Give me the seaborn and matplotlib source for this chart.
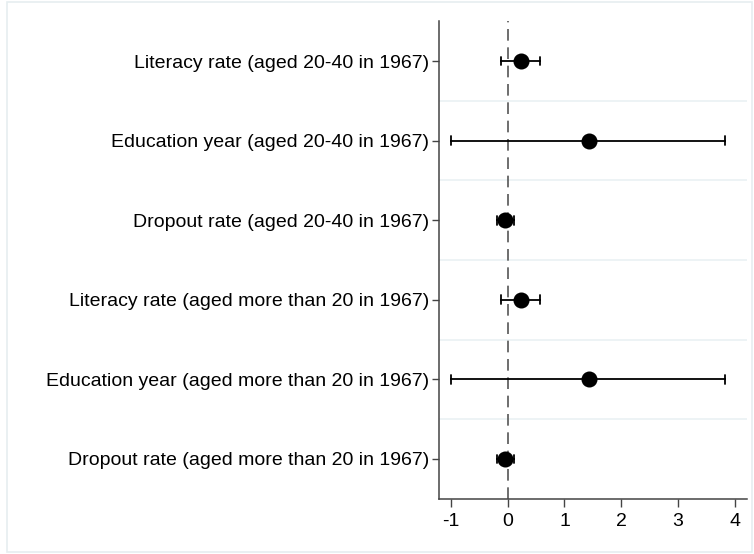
import matplotlib
matplotlib.use("Agg")
import matplotlib.pyplot as plt
import seaborn as sns
import pandas as pd
from matplotlib.patches import Rectangle

categories = [
    "Literacy rate (aged 20-40 in 1967)",
    "Education year (aged 20-40 in 1967)",
    "Dropout rate (aged 20-40 in 1967)",
    "Literacy rate (aged more than 20 in 1967)",
    "Education year (aged more than 20 in 1967)",
    "Dropout rate (aged more than 20 in 1967)",
]
estimates = [0.23, 1.43, -0.04, 0.23, 1.43, -0.04]
ci_low = [-0.12, -0.99, -0.18, -0.12, -0.99, -0.18]
ci_high = [0.575, 3.82, 0.105, 0.575, 3.82, 0.11]
xticks = [-1, 0, 1, 2, 3, 4]

rows = []
for c, lo, e, hi in zip(categories, ci_low, estimates, ci_high):
    for v in (lo, e, hi):
        rows.append({"term": c, "value": v})
df = pd.DataFrame(rows)

sns.set_theme(style="white")
plt.rcParams["font.family"] = ["Liberation Sans", "DejaVu Sans"]

fig = plt.figure(figsize=(7.54, 5.54), dpi=100)
fig.patch.set_facecolor("white")
fig.patches.append(Rectangle((7 / 754, 2 / 554), 745 / 754, 550 / 554,
                             transform=fig.transFigure, fill=False,
                             edgecolor="#e6eef0", linewidth=1.2, zorder=0))
ax = fig.add_axes([439 / 754, 1 - 499 / 554, (746.7 - 439) / 754, (499 - 21) / 554])

for y in [0.5, 1.5, 2.5, 3.5, 4.5]:
    ax.axhline(y, color="#eaf1f3", linewidth=1.2, zorder=0)
ax.axvline(0, color="#555555", linewidth=1.2, linestyle=(0, (7, 4)), zorder=1)

sns.pointplot(data=df, x="value", y="term", order=categories,
              estimator="median", errorbar=lambda v: (v.min(), v.max()),
              linestyle="none", color="black", markersize=9.5,
              capsize=0.11, err_kws={"linewidth": 1.3}, ax=ax, zorder=3)

ax.set_xlim(-1.21, 4.21)
ax.set_ylim(5.503, -0.503)
ax.set_xticks(xticks)
ax.set_xticklabels([str(t) for t in xticks])
ax.set_xlabel("")
ax.set_ylabel("")
for s in ["top", "right"]:
    ax.spines[s].set_visible(False)
for s in ["left", "bottom"]:
    ax.spines[s].set_color("#444444")
    ax.spines[s].set_linewidth(1.1)
ax.tick_params(axis="both", which="major", direction="out", colors="#444444",
               labelcolor="black", labelsize=14, width=1.0,
               left=True, bottom=True)
ax.tick_params(axis="y", length=5, pad=2)
ax.tick_params(axis="x", length=6, pad=4)
ax.grid(False)

fig.savefig("out.png", dpi=100, facecolor="white")
